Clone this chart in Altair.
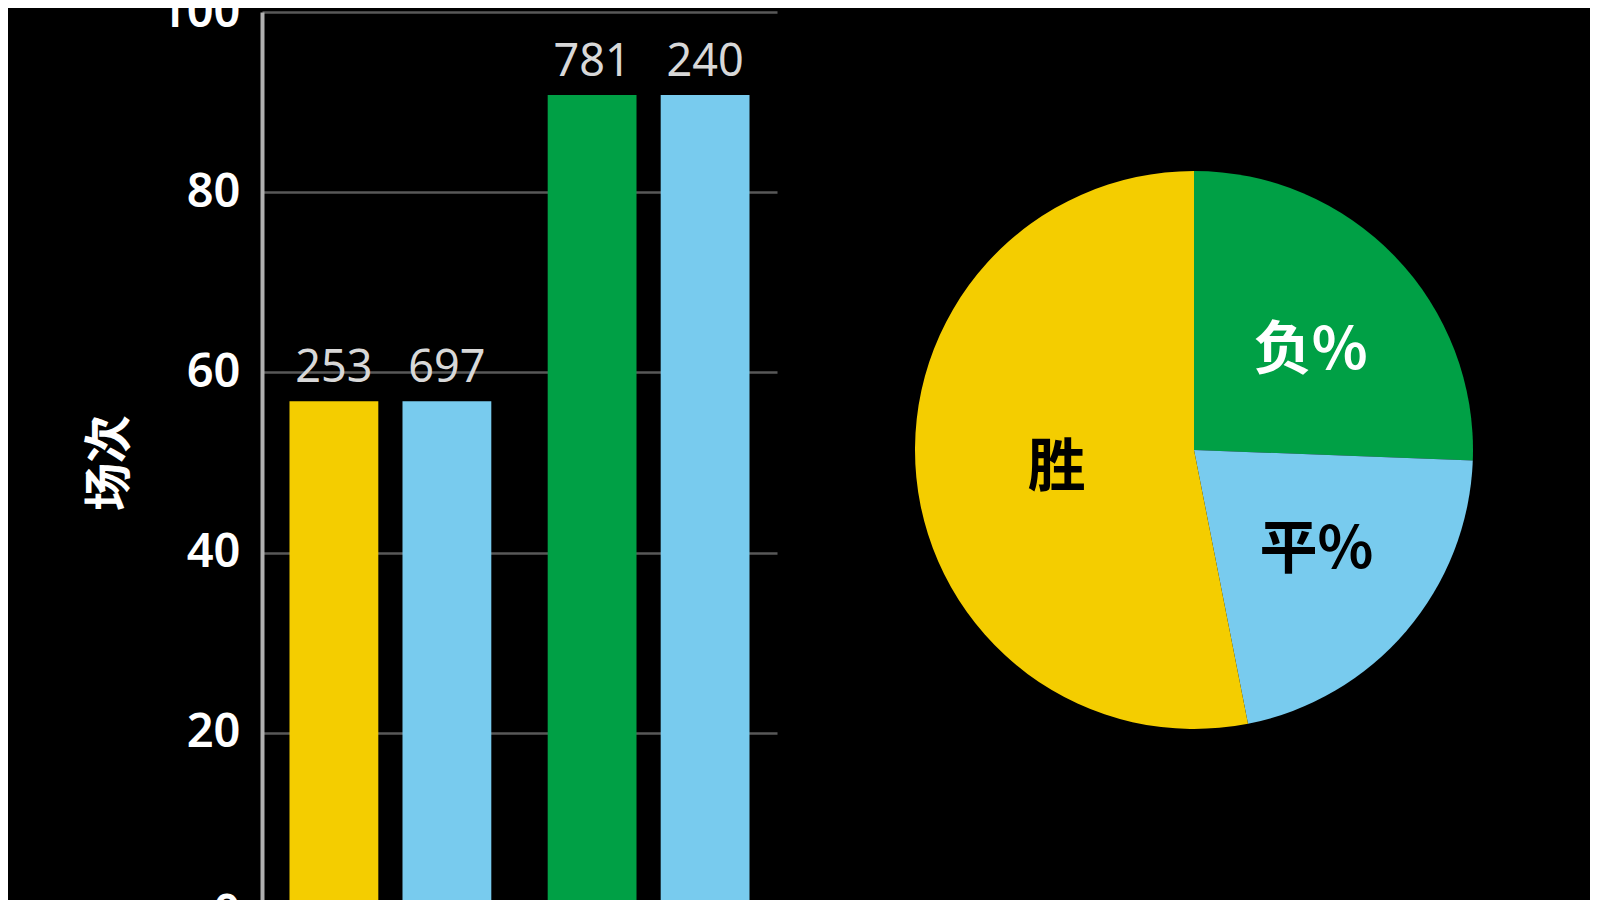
import altair as alt
import pandas as pd

# ---- data ----
bar_groups = ["第一组", "第一组", "第二组", "第二组"]
bar_slots = [1, 2, 1, 2]
bar_results = ["胜", "平", "负", "平"]
bar_values = [56.8, 56.8, 90.8, 90.8]
bar_labels = ["253", "697", "781", "240"]

pie_results = ["负", "平", "胜"]
pie_labels = ["负%", "平%", "胜"]
pie_values = [25.6, 21.3, 53.1]

y_ticks = [0, 20, 40, 60, 80, 100]

result_domain = ["胜", "平", "负"]
result_colors = ["#F4CD00", "#78CBEE", "#00A045"]

bars_df = pd.DataFrame({
    "组": bar_groups, "序号": bar_slots, "结果": bar_results,
    "场次": bar_values, "标签": bar_labels,
})
pie_df = pd.DataFrame({
    "结果": pie_results, "标签": pie_labels, "占比": pie_values,
    "顺序": list(range(len(pie_results))),
})

FONT = "Noto Sans, Noto Sans CJK SC"
color_scale = alt.Scale(domain=result_domain, range=result_colors)

x_enc = alt.X("组:N", axis=None,
              scale=alt.Scale(paddingInner=0.2, paddingOuter=0.0973))
xo_enc = alt.XOffset("序号:N",
                     scale=alt.Scale(paddingInner=0.214, paddingOuter=0.021))
y_enc = alt.Y("场次:Q", scale=alt.Scale(domain=[0, 100]),
              axis=alt.Axis(values=y_ticks, title="场次"))

bar_base = alt.Chart(bars_df).encode(x=x_enc, xOffset=xo_enc, y=y_enc)
bars = bar_base.mark_bar().encode(
    color=alt.Color("结果:N", scale=color_scale, legend=None)
)
bar_text = bar_base.mark_text(
    baseline="alphabetic", dy=-19, fontSize=45, font=FONT, color="#d8d8d8"
).encode(text="标签:N")

bar_chart = alt.layer(bars, bar_text).properties(width=515, height=901)

pie_base = alt.Chart(pie_df).encode(
    theta=alt.Theta("占比:Q", stack=True),
    order=alt.Order("顺序:Q"),
)
pie = pie_base.mark_arc().encode(
    color=alt.Color("结果:N", scale=color_scale, legend=None)
)
pie_text = pie_base.mark_text(
    radius=148, dx=10, dy=5, fontSize=58, fontWeight="bold", font="Noto Sans CJK SC"
).encode(
    text="标签:N",
    color=alt.condition("datum['结果'] === '负'", alt.value("#ffffff"), alt.value("#000000")),
)
pie_chart = alt.layer(pie, pie_text).properties(width=558, height=876)

chart = alt.hconcat(bar_chart, pie_chart, spacing=138).properties(
    background="#000000",
    padding={"top": -20, "left": 78, "right": 117, "bottom": 0},
).configure_view(stroke=None).configure_axisY(
    grid=True, gridColor="#585858", gridWidth=2.5,
    domainColor="#b0b0b0", domainWidth=4,
    ticks=False, labelPadding=22,
    labelColor="#ffffff", labelFontSize=47, labelFont=FONT, labelFontWeight=600,
    titleColor="#ffffff", titleFontSize=48, titleFont="Noto Sans CJK SC",
    titleFontWeight="bold", titlePadding=25,
)

chart.save("out.html", embed_options={"renderer": "svg", "actions": False})
